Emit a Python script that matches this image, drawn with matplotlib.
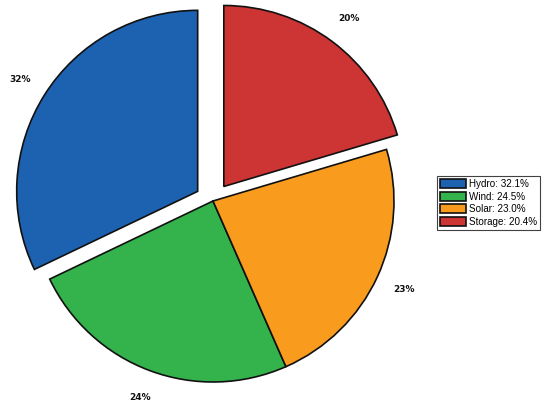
import matplotlib
matplotlib.use("Agg")
import matplotlib.pyplot as plt

categories = ["Hydro", "Wind", "Solar", "Storage"]
values = [32.1, 24.5, 23.0, 20.4]
pct_labels = ["32%", "24%", "23%", "20%"]
colors = ["#1c62b0", "#34b24b", "#f99b1c", "#cd3434"]
explode = [0.1, 0.0, 0.0, 0.1]

W, H = 550, 411
fig = plt.figure(figsize=(W / 100, H / 100), dpi=100)
ax = fig.add_axes([0, 0, 1, 1])
cx, cy, r = 213, 201, 181

wedges, texts = ax.pie(
    values, colors=colors, explode=explode, startangle=90,
    counterclock=True, labels=pct_labels, labeldistance=1.16,
    wedgeprops=dict(edgecolor="#111111", linewidth=1.2),
    textprops=dict(fontsize=6.5, fontweight="bold", color="#111111",
                   family="DejaVu Sans"),
)
for t in texts:
    t.set_ha("center")
    t.set_va("center")
ax.set_aspect("auto")
ax.set_xlim(-cx / r, (W - cx) / r)
ax.set_ylim(-(H - cy) / r, cy / r)
ax.axis("off")

leg_labels = [f"{c}: {v:.1f}%" for c, v in zip(categories, values)]
leg = fig.legend(
    wedges, leg_labels, loc="upper left",
    bbox_to_anchor=(437 / W, 1 - 176 / H),
    frameon=True, fancybox=False, edgecolor="#111111",
    prop=dict(family="Liberation Sans", size=7.1, stretch="normal"),
    handlelength=2.7, handleheight=1.05, handletextpad=0.25,
    borderpad=0.28, labelspacing=0.28, borderaxespad=0,
)
leg.get_frame().set_linewidth(0.8)

fig.savefig("out.png", dpi=100)
